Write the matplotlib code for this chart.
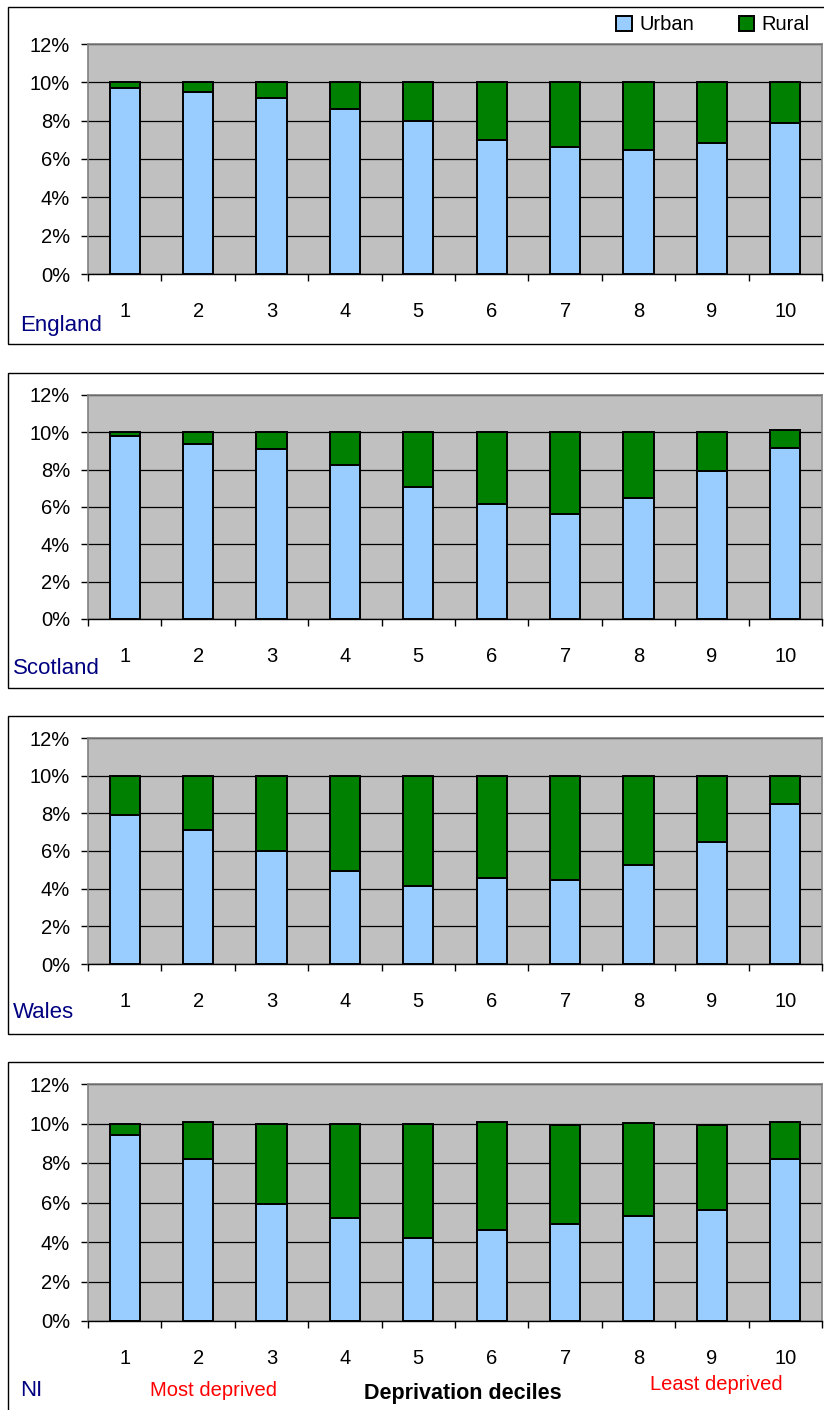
import numpy as np
import matplotlib.pyplot as plt
import matplotlib.patches as patches
from matplotlib.ticker import FixedLocator

plt.rcParams['font.family'] = ['Liberation Sans', 'DejaVu Sans']

deciles = [1, 2, 3, 4, 5, 6, 7, 8, 9, 10]
decile_labels = ['1', '2', '3', '4', '5', '6', '7', '8', '9', '10']

england_urban = [9.7, 9.5, 9.2, 8.6, 8.0, 7.0, 6.65, 6.45, 6.85, 7.9]
england_rural = [0.3, 0.5, 0.8, 1.4, 2.0, 3.0, 3.35, 3.55, 3.15, 2.1]
scotland_urban = [9.8, 9.35, 9.1, 8.25, 7.05, 6.15, 5.6, 6.5, 7.95, 9.15]
scotland_rural = [0.2, 0.65, 0.9, 1.75, 2.95, 3.85, 4.4, 3.5, 2.05, 0.95]
wales_urban = [7.9, 7.1, 6.0, 4.95, 4.15, 4.55, 4.45, 5.25, 6.5, 8.5]
wales_rural = [2.1, 2.9, 4.0, 5.05, 5.85, 5.45, 5.55, 4.75, 3.5, 1.5]
ni_urban = [9.4, 8.2, 5.9, 5.2, 4.2, 4.6, 4.9, 5.3, 5.6, 8.2]
ni_rural = [0.6, 1.9, 4.1, 4.8, 5.8, 5.5, 5.0, 4.7, 4.3, 1.9]

countries = ['England', 'Scotland', 'Wales', 'NI']
urban = [england_urban, scotland_urban, wales_urban, ni_urban]
rural = [england_rural, scotland_rural, wales_rural, ni_rural]

yticks = [0, 2, 4, 6, 8, 10, 12]

W, H = 824, 1410
fig = plt.figure(figsize=(W / 100, H / 100), dpi=100)

def px_axes(left, top, right, bottom):
    return fig.add_axes([left / W, 1 - bottom / H, (right - left) / W, (bottom - top) / H])

# panel layout in pixels: box top, box bottom, axes top (12%), axes bottom (0%),
# country label (x, y)
panels = [
    (7, 344, 44, 274, 20, 325),
    (373, 688, 395, 619, 13, 668),
    (716, 1034, 738, 964, 13, 1013),
    (1062, 1420, 1084, 1321, 20, 1391),
]

urban_col = '#99CCFF'
rural_col = '#008000'
bw = 0.41

for i in range(4):
    btop, bbot, atop, abot, lx, ly = panels[i]
    box = patches.Rectangle((8 / W, 1 - bbot / H), (830 - 8) / W, (bbot - btop) / H,
                            transform=fig.transFigure, fill=False,
                            edgecolor='black', lw=1.0)
    fig.patches.append(box)

    ax = px_axes(88, atop, 822, abot)
    ax.set_facecolor('#C0C0C0')
    b1 = ax.bar(deciles, urban[i], width=bw, color=urban_col, edgecolor='black',
                lw=1.4, zorder=3, label='Urban')
    b2 = ax.bar(deciles, rural[i], width=bw, bottom=urban[i], color=rural_col,
                edgecolor='black', lw=1.4, zorder=3, label='Rural')
    ax.set_xlim(0.5, 10.5)
    ax.set_ylim(0, 12)
    ax.set_yticks(yticks)
    ax.set_yticklabels([str(v) + '%' for v in yticks], fontsize=14.5)
    ax.yaxis.grid(True, color='black', lw=0.9, zorder=1)
    ax.set_axisbelow(True)
    ax.set_xticks(deciles)
    ax.set_xticklabels(decile_labels, fontsize=14.5)
    ax.xaxis.set_minor_locator(FixedLocator(np.arange(0.5, 11, 1.0)))
    ax.tick_params(axis='x', which='major', length=0, pad=20)
    ax.tick_params(axis='x', which='minor', length=5, width=1, color='black')
    ax.tick_params(axis='y', length=5, width=1, pad=8, color='black')
    for s in ['left', 'top', 'right']:
        ax.spines[s].set_color('#808080')
        ax.spines[s].set_linewidth(1.2)
    ax.spines['bottom'].set_color('black')
    ax.spines['bottom'].set_linewidth(1.0)

    fig.text(lx / W, 1 - ly / H, countries[i], color='#000080', fontsize=16,
             ha='left', va='center')

    if i == 0:
        fig.legend(handles=[b1, b2], labels=['Urban', 'Rural'], ncol=2,
                   frameon=False, fontsize=14.5, loc='center right',
                   bbox_to_anchor=(818 / W, 1 - 25 / H),
                   handlelength=0.75, handleheight=0.75, handletextpad=0.4,
                   columnspacing=2.2, borderaxespad=0)

fig.text(213 / W, 1 - 1391 / H, 'Most deprived', color='red', fontsize=14.5,
         ha='center', va='center')
fig.text(463 / W, 1 - 1393 / H, 'Deprivation deciles', color='black', fontsize=15.5,
         fontweight='bold', ha='center', va='center')
fig.text(716 / W, 1 - 1385 / H, 'Least deprived', color='red', fontsize=14.5,
         ha='center', va='center')

fig.savefig('out.png', dpi=100, facecolor='white')
